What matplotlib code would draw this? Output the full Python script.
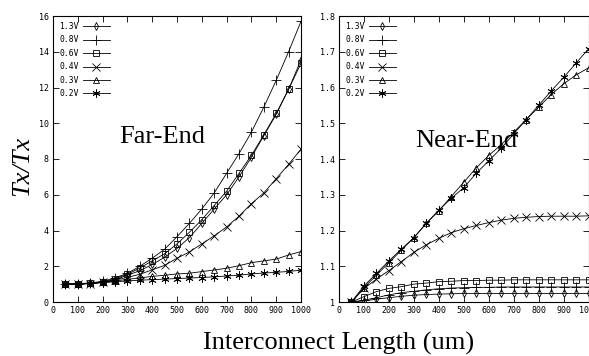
import numpy as np
import matplotlib
matplotlib.use('Agg')
import matplotlib.pyplot as plt

# Interconnect length (um)
length = [50, 100, 150, 200, 250, 300, 350, 400, 450, 500,
          550, 600, 650, 700, 750, 800, 850, 900, 950, 1000]

labels = ['1.3V', '0.8V', '0.6V', '0.4V', '0.3V', '0.2V']

# Far-End Tx/Tx
far_13 = [1.0, 1.0, 1.04, 1.1, 1.25, 1.5, 1.75, 2.1, 2.5, 3.0,
          3.6, 4.4, 5.2, 6.0, 7.0, 8.1, 9.3, 10.5, 11.9, 13.55]
far_08 = [1.0, 1.02, 1.07, 1.15, 1.35, 1.6, 2.0, 2.45, 2.95, 3.65,
          4.4, 5.2, 6.1, 7.2, 8.3, 9.5, 10.9, 12.4, 14.0, 15.7]
far_06 = [1.0, 1.0, 1.05, 1.12, 1.3, 1.55, 1.9, 2.3, 2.7, 3.25,
          3.9, 4.6, 5.4, 6.2, 7.2, 8.2, 9.35, 10.55, 11.9, 13.35]
far_04 = [1.0, 1.0, 1.03, 1.1, 1.22, 1.38, 1.55, 1.8, 2.05, 2.45,
          2.8, 3.25, 3.7, 4.2, 4.8, 5.5, 6.1, 6.9, 7.7, 8.55]
far_03 = [1.0, 1.0, 1.04, 1.1, 1.17, 1.27, 1.35, 1.43, 1.5, 1.57,
          1.61, 1.70, 1.79, 1.89, 2.03, 2.2, 2.3, 2.4, 2.63, 2.82]
far_02 = [1.0, 1.0, 1.04, 1.08, 1.13, 1.18, 1.22, 1.25, 1.28, 1.31,
          1.34, 1.37, 1.41, 1.45, 1.5, 1.57, 1.62, 1.66, 1.71, 1.78]

# Near-End Tx/Tx
near_13 = [1.0, 1.003, 1.008, 1.012, 1.016, 1.019, 1.021, 1.022, 1.023, 1.024,
           1.024, 1.024, 1.024, 1.024, 1.024, 1.024, 1.024, 1.024, 1.024, 1.024]
near_08 = [1.0, 1.005, 1.012, 1.02, 1.026, 1.03, 1.034, 1.037, 1.039, 1.04,
           1.041, 1.041, 1.042, 1.042, 1.042, 1.042, 1.042, 1.042, 1.042, 1.042]
near_06 = [1.0, 1.015, 1.029, 1.038, 1.043, 1.05, 1.053, 1.057, 1.058, 1.06,
           1.06, 1.061, 1.061, 1.062, 1.062, 1.062, 1.062, 1.062, 1.062, 1.062]
near_04 = [1.0, 1.038, 1.064, 1.088, 1.113, 1.139, 1.16, 1.178, 1.194, 1.205,
           1.214, 1.222, 1.229, 1.234, 1.237, 1.239, 1.24, 1.24, 1.24, 1.241]
near_03 = [1.0, 1.04, 1.075, 1.11, 1.145, 1.18, 1.22, 1.255, 1.295, 1.335,
           1.375, 1.41, 1.44, 1.475, 1.51, 1.545, 1.58, 1.61, 1.635, 1.655]
near_02 = [1.0, 1.045, 1.08, 1.115, 1.148, 1.18, 1.22, 1.257, 1.29, 1.32,
           1.36, 1.395, 1.43, 1.47, 1.51, 1.55, 1.59, 1.628, 1.668, 1.708]

far_series = [far_13, far_08, far_06, far_04, far_03, far_02]
near_series = [near_13, near_08, near_06, near_04, near_03, near_02]

# marker styles per voltage (gnuplot-like)
markers = ['d', '+', 's', 'x', '^', (6, 2, 0)]
msizes = [3.8, 6.5, 4.8, 5.2, 4.8, 5.8]

mono = 'DejaVu Sans Mono'
serif = 'Liberation Serif'

fig = plt.figure(figsize=(5.89, 3.56), dpi=100)
W, H = 589, 356
ax1 = fig.add_axes([53 / W, 1 - 302 / H, 248 / W, 286 / H])
ax2 = fig.add_axes([339 / W, 1 - 302 / H, 249.5 / W, 286 / H])


def draw_panel(ax, series, yticks, ylim, fmt):
    for vals, lab, m, ms in zip(series, labels, markers, msizes):
        ax.plot(length, vals, color='black', linewidth=0.6, marker=m,
                markersize=ms, markerfacecolor='none', markeredgecolor='black',
                markeredgewidth=0.6, label=lab)
    ax.set_xlim(0, 1000)
    ax.set_ylim(*ylim)
    ax.set_xticks(np.arange(0, 1001, 100))
    ax.set_yticks(yticks)
    ax.set_yticklabels([fmt % v for v in yticks])
    ax.tick_params(direction='in', top=True, right=True, length=4, width=0.6,
                   labelsize=6, pad=3)
    for lab in ax.get_xticklabels() + ax.get_yticklabels():
        lab.set_family(mono)
    for sp in ax.spines.values():
        sp.set_linewidth(0.8)
    leg = ax.legend(loc='upper left', frameon=False, markerfirst=False,
                    prop={'family': mono, 'size': 5.8}, handlelength=3.4,
                    handletextpad=0.5, labelspacing=0.55, borderpad=0.3,
                    borderaxespad=0.45)
    return leg


draw_panel(ax1, far_series, [0, 2, 4, 6, 8, 10, 12, 14, 16], (0, 16), '%g')
draw_panel(ax2, near_series, [1, 1.1, 1.2, 1.3, 1.4, 1.5, 1.6, 1.7, 1.8], (1, 1.8), '%g')

ax1.text(0.44, 0.556, 'Far-End', transform=ax1.transAxes, ha='center',
         va='baseline', family=serif, fontsize=19)
ax2.text(0.51, 0.542, 'Near-End', transform=ax2.transAxes, ha='center',
         va='baseline', family=serif, fontsize=19)

fig.text(22 / W, 1 - 166 / H, 'Tx/Tx', rotation=90, ha='center', va='center',
         family=serif, style='italic', fontsize=19)
fig.text(339 / W, 6 / H, 'Interconnect Length (um)', ha='center', va='baseline',
         family=serif, fontsize=19)

fig.savefig('out.png', dpi=100)
